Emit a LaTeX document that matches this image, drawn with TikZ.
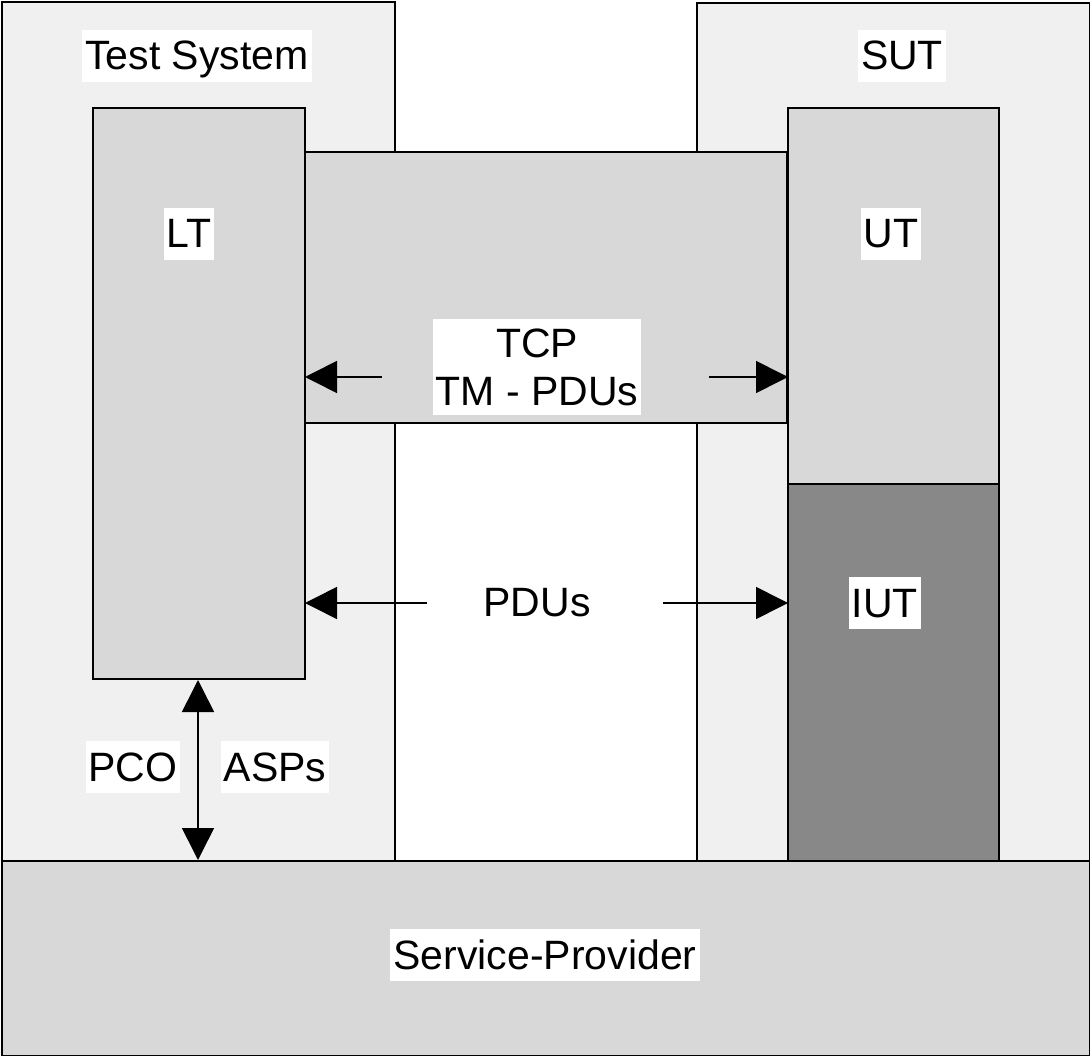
\documentclass[tikz,border=0pt]{standalone}
\usepackage{fontspec}
\setmainfont{Liberation Sans}
\usetikzlibrary{arrows.meta}
\definecolor{outerfill}{HTML}{F0F0F0}
\definecolor{innerfill}{HTML}{D8D8D8}
\definecolor{iutfill}{HTML}{888888}
\begin{document}
\begin{tikzpicture}[x=1pt,y=-1pt,
  box/.style={draw=black, line width=2pt, rectangle, inner sep=0pt},
  outerbox/.style={box, fill=outerfill},
  innerbox/.style={box, fill=innerfill},
  lbltext/.style={fill=white, inner xsep=3pt, font=\fontsize{41}{48}\selectfont, text=black},
  lbl/.style={lbltext, inner ysep=3pt, text height=37pt, text depth=9pt},
  conn/.style={line width=1.6pt, -{Triangle[length=32pt,width=32pt]}, shorten >=-1pt},
  dconn/.style={line width=1.6pt, {Triangle[length=32pt,width=32pt]}-{Triangle[length=32pt,width=32pt]}}
]
\useasboundingbox (0,0) rectangle (1090,1056);
\fill[white] (0,0) rectangle (1090,1056);
% outer boxes
\node[outerbox, minimum width=393pt, minimum height=870pt, anchor=north west] (ts) at (1,1) {};
\node[outerbox, minimum width=393pt, minimum height=868pt, anchor=north west] (sut) at (696,2) {};
% inner boxes
\node[innerbox, minimum width=212pt, minimum height=571pt, anchor=north west] (lt) at (92,107) {};
\node[innerbox, minimum width=482pt, minimum height=271pt, anchor=north west] (tcp) at (304,151) {};
\node[innerbox, minimum width=211pt, minimum height=376pt, anchor=north west] (ut) at (787,107) {};
\node[box, fill=iutfill, minimum width=211pt, minimum height=377pt, anchor=north west] (iut) at (787,483) {};
% service provider
\node[innerbox, minimum width=1088pt, minimum height=195pt, anchor=north west] (sp) at (1,860) {};
% labels
\node[lbl] (tsl) at (197,56) {Test System};
\node[lbl] (sutl) at (902,56) {SUT};
\node[lbl] (ltl) at (189,234) {LT};
\node[lbl] (utl) at (891,234) {UT};
\node[lbltext, inner ysep=9pt, align=center] (tcpl) at (537,367) {TCP\\TM - PDUs};
\node[lbl] (pdul) at (537,602) {PDUs};
\node[lbl] (iutl) at (885,603) {IUT};
\node[lbl] (pcol) at (133,767) {PCO};
\node[lbl] (aspl) at (275,767) {ASPs};
\node[lbl] (spl) at (545,955) {Service-Provider};
% connectors
\coordinate (a1) at (382,377);
\coordinate (a2) at (709,377);
\coordinate (b1) at (427,603);
\coordinate (b2) at (663,603);
\draw[conn] (a1) -- (a1 -| lt.east);
\draw[conn] (a2) -- (a2 -| ut.west);
\draw[conn] (b1) -- (b1 -| lt.east);
\draw[conn] (b2) -- (b2 -| iut.west);
\draw[dconn] (lt.south -| 198,0) -- (sp.north -| 198,0);
\end{tikzpicture}
\end{document}
